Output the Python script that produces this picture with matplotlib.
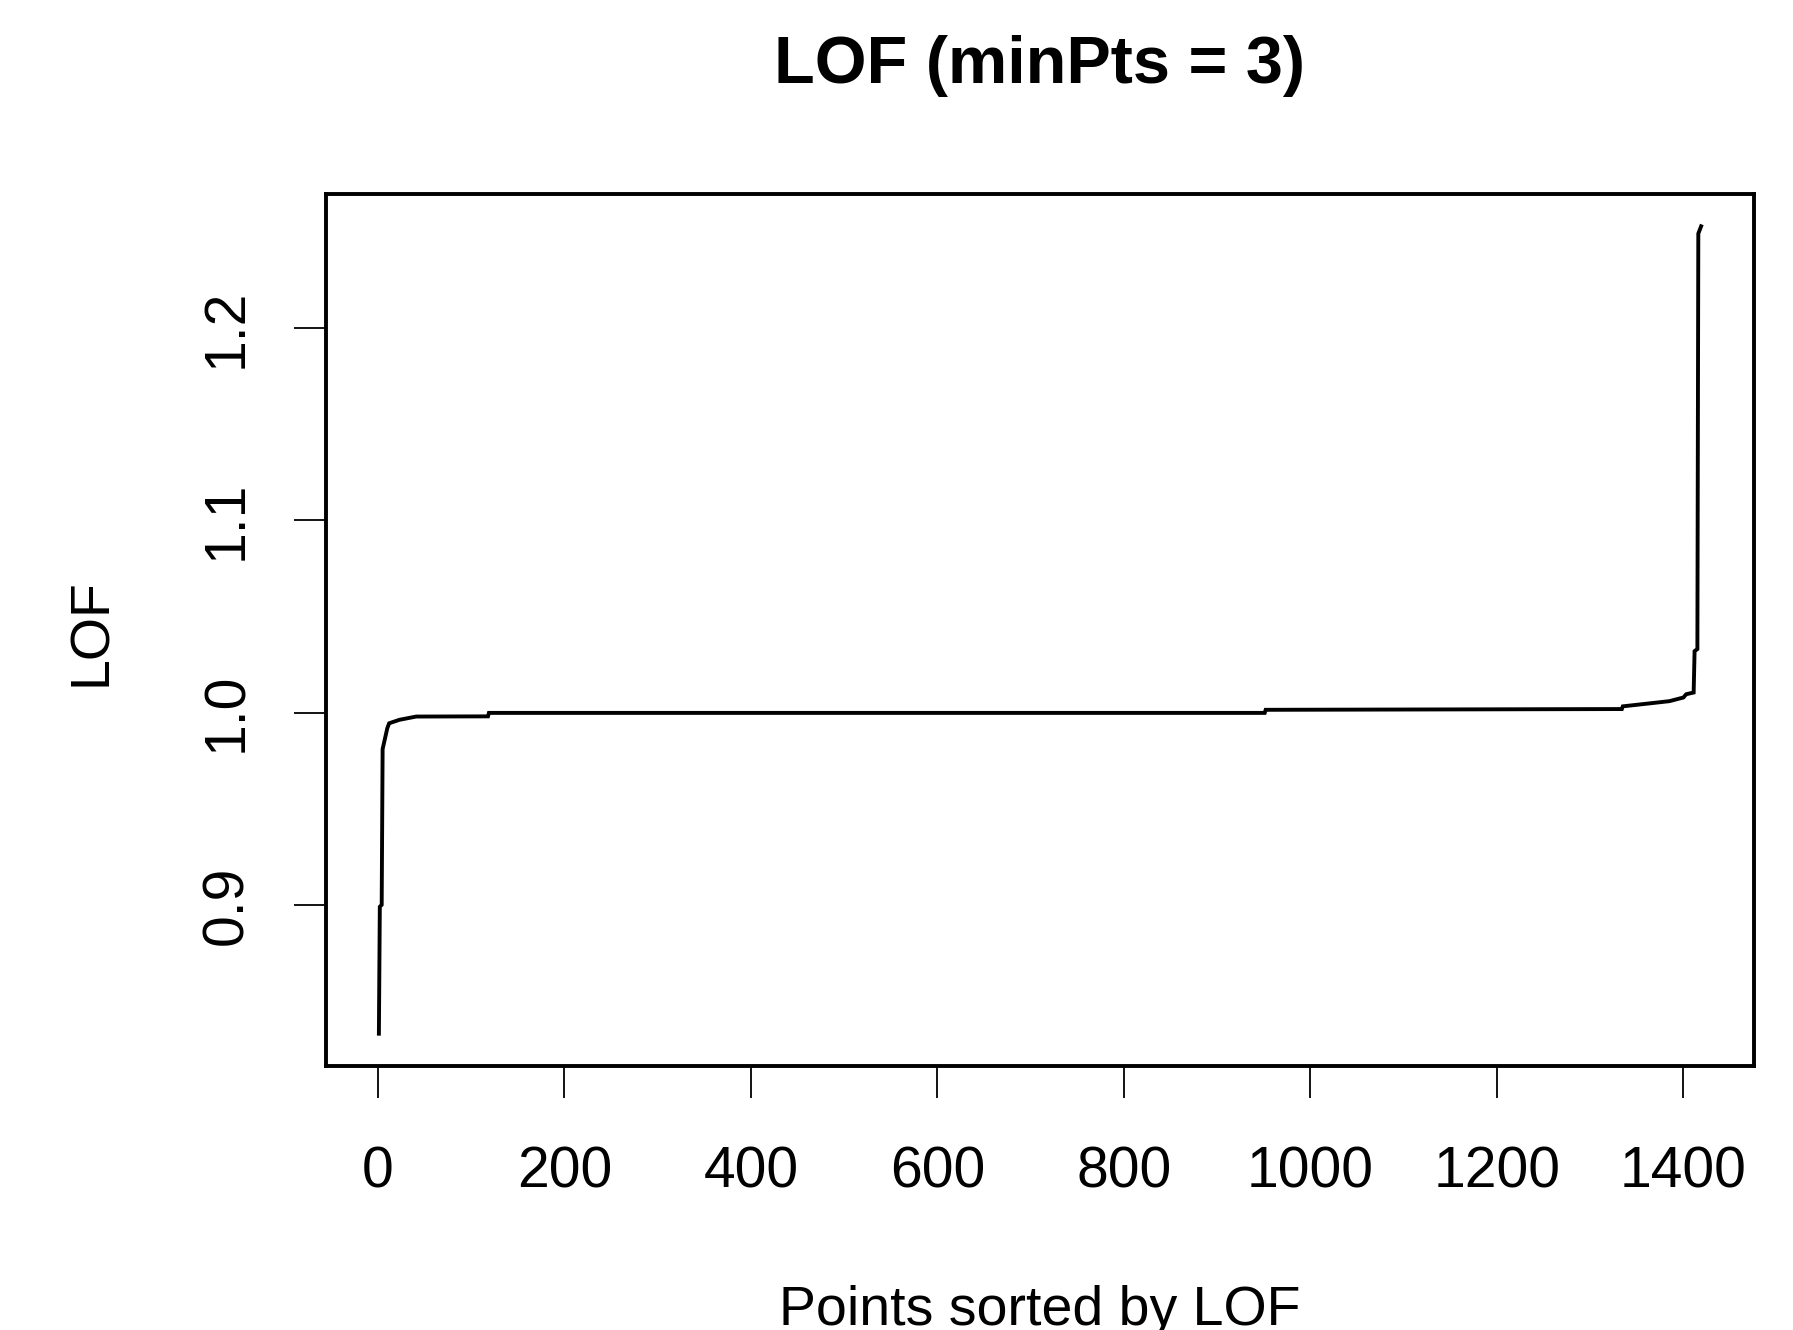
import matplotlib
matplotlib.use("Agg")
import matplotlib.pyplot as plt

point_idx = [1, 2, 4, 5, 10, 12, 23, 41, 118, 119, 951, 952,
             1334, 1335, 1385, 1400, 1403, 1411, 1412, 1415, 1416, 1419]
lof_vals = [0.833, 0.899, 0.900, 0.981, 0.9918, 0.9944, 0.9962, 0.9979, 0.9980, 0.9998, 0.9998, 1.0014,
            1.0018, 1.0032, 1.0059, 1.0078, 1.0095, 1.0104, 1.0319, 1.0330, 1.2490, 1.2528]

x_ticks = [0, 200, 400, 600, 800, 1000, 1200, 1400]
y_ticks = [0.9, 1.0, 1.1, 1.2]

plt.rcParams['font.family'] = ['Liberation Sans', 'DejaVu Sans']

W, H = 1793, 1330
fig = plt.figure(figsize=(W / 100, H / 100), dpi=100)
ax = fig.add_axes([326 / W, 1 - 1066 / H, (1754 - 326) / W, (1066 - 194) / H])

ax.plot(point_idx, lof_vals, color='black', linewidth=2.8, solid_joinstyle='miter')

# R style axis range: data range stretched by 4% on each side
def r_lim(v):
    lo, hi = min(v), max(v)
    d = (hi - lo) * 0.04
    return lo - d, hi + d

ax.set_xlim(*r_lim(point_idx))
ax.set_ylim(*r_lim(lof_vals))

ax.set_xticks(x_ticks)
ax.set_xticklabels([str(t) for t in x_ticks])
ax.set_yticks(y_ticks)
ax.set_yticklabels([f"{t:.1f}" for t in y_ticks], rotation=90, va='center')

ax.tick_params(axis='both', direction='out', length=23, width=1.3, labelsize=41, colors='black')
ax.tick_params(axis='x', pad=34)
ax.tick_params(axis='y', pad=29)

for s in ax.spines.values():
    s.set_linewidth(2.8)
    s.set_color('black')

# titles and axis labels placed like R's base graphics
fig.text(1040 / W, 1 - 83 / H, 'LOF (minPts = 3)', ha='center', va='baseline',
         fontsize=48, fontweight='bold')
fig.text(1040 / W, 1 - 1325 / H, 'Points sorted by LOF', ha='center', va='baseline',
         fontsize=40)
fig.text(92 / W, 1 - 632 / H, 'LOF', ha='center', va='center', rotation=90, fontsize=40)

fig.savefig('out.png', dpi=100)
